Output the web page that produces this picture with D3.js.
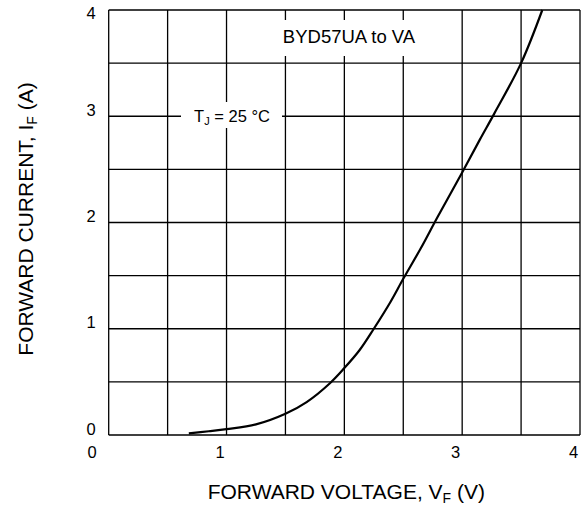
<!DOCTYPE html>
<html>
<head>
<meta charset="utf-8">
<script src="https://d3js.org/d3.v7.min.js"></script>
<style>
 body {margin: 0; background: #fff;}
 svg {display: block; font-family: "Liberation Sans", Arial, sans-serif;}
</style>
<title>Forward current vs forward voltage</title>
</head>
<body>
<div id="contenedor"></div>
<script>
// values
var voltage = [0.68, 0.85, 1.0, 1.25, 1.5, 1.68, 1.88, 2.0, 2.13, 2.25, 2.39, 2.5, 2.65, 2.79, 3.0, 3.15, 3.27, 3.5, 3.68];
var current = [0.015, 0.035, 0.055, 0.10, 0.20, 0.31, 0.49, 0.63, 0.80, 1.0, 1.25, 1.47, 1.76, 2.05, 2.47, 2.78, 3.02, 3.5, 4.0];
var xTicks = [0, 1, 2, 3, 4];
var yTicks = [0, 1, 2, 3, 4];
var xGrid = [0, 0.5, 1, 1.5, 2, 2.5, 3, 3.5, 4];
var yGrid = [0, 0.5, 1, 1.5, 2, 2.5, 3, 3.5, 4];

var width = 581,
    height = 511;
var plotL = 108.7, plotR = 580, plotT = 10, plotB = 435;

var svg = d3.select("#contenedor").append("svg")
            .attr("width", width).attr("height", height);

var x = d3.scaleLinear().domain([0, 4]).range([plotL, plotR]);
var y = d3.scaleLinear().domain([0, 4]).range([plotB, plotT]);

// grid
var grid = svg.append("g").attr("stroke", "#000").attr("stroke-width", 1.3);
grid.selectAll(".gx").data(xGrid).enter().append("line")
    .attr("x1", d => x(d)).attr("x2", d => x(d))
    .attr("y1", y(4)).attr("y2", y(0));
grid.selectAll(".gy").data(yGrid).enter().append("line")
    .attr("y1", d => y(d)).attr("y2", d => y(d))
    .attr("x1", x(0)).attr("x2", x(4));

// white label boxes break the grid
svg.append("rect").attr("x", 276).attr("y", 20).attr("width", 146).attr("height", 36).attr("fill", "#fff");
svg.append("rect").attr("x", 181).attr("y", 102).attr("width", 101).attr("height", 26).attr("fill", "#fff");

// curve
var pts = voltage.map((v, i) => [v, current[i]]);
var line = d3.line().x(d => x(d[0])).y(d => y(d[1])).curve(d3.curveCatmullRom.alpha(0.5));
svg.append("path").datum(pts)
   .attr("d", line)
   .attr("fill", "none").attr("stroke", "#000").attr("stroke-width", 2.2);

// axes (labels only)
svg.append("g").attr("transform", "translate(0,458)")
   .call(d3.axisBottom(x).tickValues(xTicks).tickFormat(d3.format("d")).tickSize(0).tickPadding(0))
   .call(g => g.select(".domain").remove())
   .selectAll("text").attr("y", 0).attr("dy", 0).attr("fill", "#000")
   .attr("font-size", 16.5).attr("font-family", "Liberation Sans, Arial, sans-serif")
   .attr("dx", d => d === 0 ? -17 : -7);

svg.append("g").attr("transform", "translate(91,0)")
   .call(d3.axisLeft(y).tickValues(yTicks).tickFormat(d3.format("d")).tickSize(0).tickPadding(0))
   .call(g => g.select(".domain").remove())
   .selectAll("text").attr("x", 0).attr("text-anchor", "middle").attr("fill", "#000")
   .attr("dy", d => d === 4 ? 8 : -1)
   .attr("font-size", 16.5).attr("font-family", "Liberation Sans, Arial, sans-serif");

// axis titles
var xt = svg.append("text").attr("x", (plotL + plotR) / 2 + 2).attr("y", 499)
   .attr("text-anchor", "middle").attr("font-size", 21);
xt.append("tspan").text("FORWARD VOLTAGE, V");
xt.append("tspan").attr("font-size", 14).attr("dy", 4).text("F");
xt.append("tspan").attr("dy", -4).text(" (V)");

var yt = svg.append("text").attr("transform", "translate(33,219) rotate(-90)")
   .attr("text-anchor", "middle").attr("font-size", 21);
yt.append("tspan").text("FORWARD CURRENT, I");
yt.append("tspan").attr("font-size", 14).attr("dy", 4).text("F");
yt.append("tspan").attr("dy", -4).text(" (A)");

// annotations
svg.append("text").attr("x", 349).attr("y", 43).attr("text-anchor", "middle")
   .attr("font-size", 18.5).text("BYD57UA to VA");

var tj = svg.append("text").attr("x", 232).attr("y", 121.7).attr("text-anchor", "middle")
   .attr("font-size", 16.5);
tj.append("tspan").text("T");
tj.append("tspan").attr("font-size", 11).attr("dy", 3).text("J");
tj.append("tspan").attr("dy", -3).text(" = 25 °C");
</script>
</body>
</html>
